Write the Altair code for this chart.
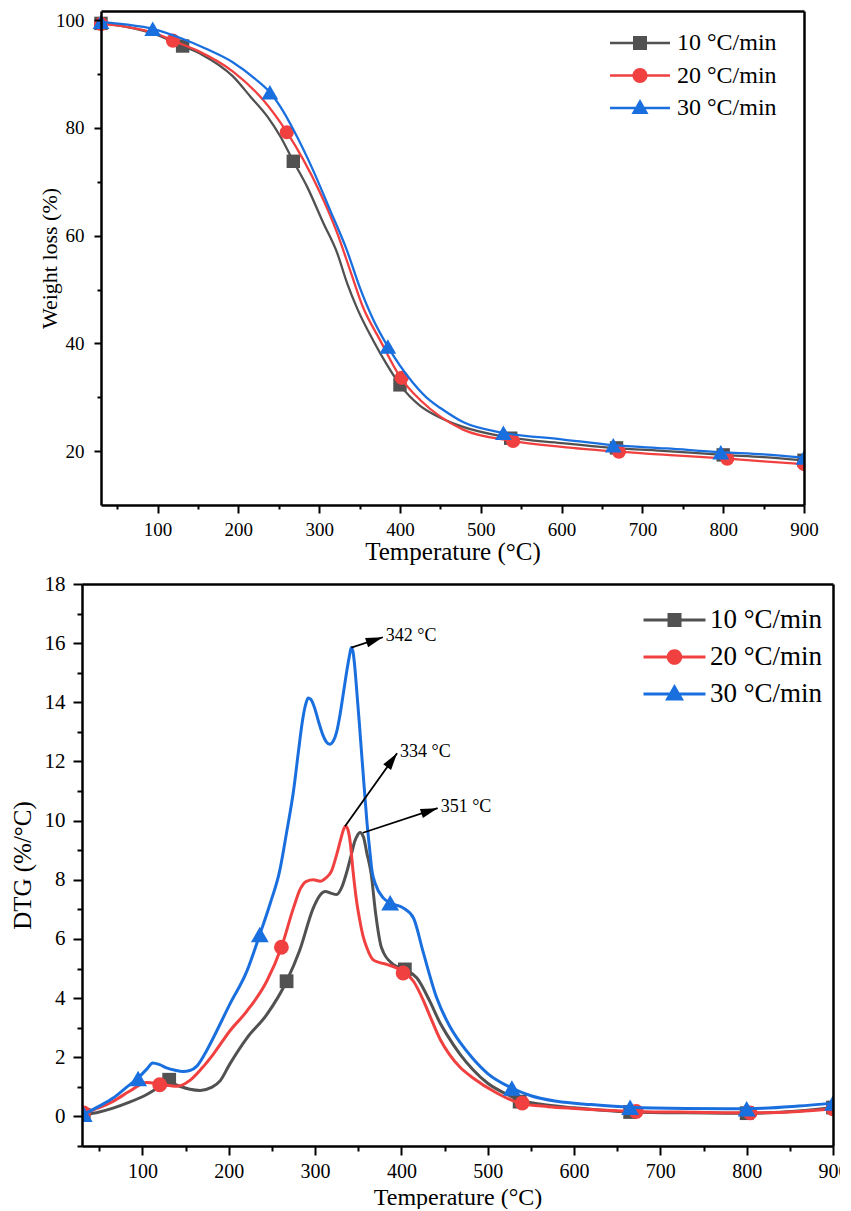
import math
import altair as alt
import pandas as pd

FONT = "Liberation Serif, 'Times New Roman', Times, 'DejaVu Serif', serif"
SERIES = ["10 °C/min", "20 °C/min", "30 °C/min"]
COLORS = ["#515151", "#F14040", "#1A6FDF"]
SHAPES = ["square", "circle", "triangle-up"]

# ---------------- TG (top panel) ----------------
tg10_T = [30, 60, 100, 131, 155, 193, 215, 236, 252, 268, 285, 305, 322, 335, 347, 367, 384, 400, 425, 450, 478, 528, 600, 664, 730, 800, 850, 900]
tg10_v = [99.4, 98.8, 97.2, 95.2, 93.6, 89.6, 85.8, 82.1, 78.4, 73.8, 69.1, 62.4, 56.9, 51.0, 46.5, 40.5, 36.0, 32.3, 28.4, 26.2, 24.5, 22.7, 21.5, 20.6, 20.0, 19.3, 18.9, 18.3]
tg20_T = [30, 60, 100, 119, 150, 193, 230, 260, 280, 301, 322, 338, 354, 375, 400, 425, 450, 478, 539, 600, 670, 740, 805, 850, 900]
tg20_v = [99.3, 98.8, 97.4, 96.2, 94.3, 90.5, 85.3, 79.2, 74.2, 68.0, 60.6, 53.7, 46.8, 40.7, 33.8, 29.5, 26.4, 24.0, 21.9, 20.8, 19.9, 19.2, 18.6, 18.1, 17.6]
tg30_T = [30, 60, 94, 130, 160, 193, 220, 239, 255, 268, 292, 313, 334, 350, 367, 385, 416, 437, 450, 478, 528, 600, 664, 730, 797, 850, 900]
tg30_v = [99.7, 99.2, 98.4, 96.6, 94.7, 92.2, 89.2, 86.6, 83.2, 79.7, 72.3, 64.9, 57.4, 50.5, 44.4, 39.4, 32.7, 29.4, 28.0, 25.4, 23.4, 22.2, 21.1, 20.5, 19.8, 19.4, 18.8]

tgm10_T = [30, 131, 268, 400, 537, 668, 800, 900]
tgm10_v = [99.4, 95.2, 73.8, 32.3, 22.4, 20.6, 19.3, 18.3]
tgm20_T = [30, 119, 260, 402, 540, 671, 805, 900]
tgm20_v = [99.3, 96.2, 79.2, 33.6, 21.9, 19.9, 18.6, 17.6]
tgm30_T = [30, 94, 239, 385, 528, 664, 797, 900]
tgm30_v = [99.7, 98.4, 86.6, 39.4, 23.4, 21.1, 19.8, 18.8]

# ---------------- DTG (bottom panel) ----------------
dtg10_T = [32, 50, 66, 85, 105, 120, 131, 143, 155, 167, 180, 190, 201, 221, 244, 267, 282, 298, 305, 312, 318, 325, 331, 337, 342, 346, 349, 352, 356, 360, 365, 370, 377, 390, 404, 418, 433, 445, 452, 468, 483, 500, 522, 537, 560, 600, 665, 730, 800, 860, 900]
dtg10_v = [0.05, 0.15, 0.28, 0.48, 0.74, 1.0, 1.15, 1.02, 0.92, 0.88, 0.98, 1.2, 1.76, 2.65, 3.44, 4.57, 5.6, 7.05, 7.45, 7.6, 7.55, 7.5, 7.75, 8.29, 8.85, 9.3, 9.5, 9.6, 9.45, 8.9, 8.2, 6.9, 5.7, 5.15, 4.97, 4.68, 3.89, 3.15, 2.8, 2.1, 1.58, 1.12, 0.75, 0.55, 0.42, 0.29, 0.15, 0.12, 0.11, 0.18, 0.3]
dtg20_T = [32, 50, 66, 85, 105, 120, 140, 155, 168, 182, 201, 221, 244, 261, 275, 283, 290, 298, 306, 312, 319, 325, 330, 333, 335.5, 338, 341, 344, 348, 352, 356, 360, 367, 375, 383, 402, 414, 425, 433, 445, 456, 468, 483, 510, 537, 570, 600, 672, 740, 804, 860, 900]
dtg20_v = [0.12, 0.3, 0.51, 0.85, 1.15, 1.1, 1.02, 1.22, 1.6, 2.1, 2.88, 3.56, 4.57, 5.72, 7.05, 7.7, 7.95, 8.0, 7.95, 8.05, 8.29, 8.85, 9.4, 9.7, 9.81, 9.7, 9.2, 8.29, 7.3, 6.6, 6.05, 5.7, 5.3, 5.2, 5.14, 4.9, 4.57, 3.95, 3.4, 2.6, 2.08, 1.66, 1.3, 0.8, 0.45, 0.33, 0.27, 0.17, 0.14, 0.12, 0.17, 0.26]
dtg30_T = [32, 50, 66, 80, 95, 105, 112, 120, 128, 138, 147, 155, 163, 172, 182, 201, 221, 236, 248, 259, 267, 275, 281, 285, 288, 290, 292, 295, 299, 304, 309, 313, 317, 321, 325, 329, 333, 337, 340, 342, 344, 346, 348, 351, 354, 357, 360, 363, 366, 370, 379, 387, 402, 414, 425, 441, 456, 468, 483, 500, 528, 550, 580, 620, 665, 730, 800, 860, 900]
dtg30_v = [0.07, 0.35, 0.62, 0.95, 1.3, 1.6, 1.81, 1.75, 1.64, 1.56, 1.52, 1.55, 1.7, 2.1, 2.65, 3.78, 4.91, 6.15, 7.2, 8.3, 9.6, 11.0, 12.4, 13.3, 13.8, 14.02, 14.15, 14.1, 13.85, 13.35, 12.9, 12.66, 12.58, 12.68, 13.0, 13.6, 14.35, 15.1, 15.6, 15.85, 15.7, 15.2, 14.5, 13.4, 12.24, 11.1, 9.98, 9.1, 8.29, 7.85, 7.39, 7.22, 7.05, 6.71, 5.58, 4.0, 3.05, 2.5, 1.95, 1.45, 0.96, 0.7, 0.51, 0.4, 0.31, 0.27, 0.26, 0.35, 0.45]

dtgm10_T = [32, 131, 267, 404, 537, 665, 800, 900]
dtgm10_v = [0.05, 1.24, 4.57, 4.97, 0.5, 0.15, 0.11, 0.3]
dtgm20_T = [32, 120, 261, 402, 540, 672, 804, 900]
dtgm20_v = [0.12, 1.07, 5.72, 4.85, 0.45, 0.17, 0.12, 0.26]
dtgm30_T = [32, 95, 236, 387, 528, 665, 800, 900]
dtgm30_v = [0.07, 1.28, 6.15, 7.22, 0.96, 0.31, 0.26, 0.45]

# peak annotations
ann_text = ["342 °C", "334 °C", "351 °C"]
ann_T1 = [342, 334.7, 355.5]
ann_v1 = [15.85, 9.81, 9.59]
ann_T2 = [378.5, 395, 442]
ann_v2 = [16.2, 12.28, 10.42]

X_MAJOR = [100, 200, 300, 400, 500, 600, 700, 800, 900]
X_MINOR = [50, 150, 250, 350, 450, 550, 650, 750, 850]


def frame(T, v, s):
    return pd.DataFrame({"T": T, "v": v, "series": s})


def legend_paths(half_len, half_line, sq, cr, tri_top, tri_bot, tri_half):
    L = half_len
    seg = f"M-{L},-{half_line}H{L}V{half_line}H-{L}Z"
    p_sq = seg + f" M-{sq},-{sq}H{sq}V{sq}H-{sq}Z"
    p_ci = seg + f" M-{cr},0A{cr},{cr},0,1,1,{cr},0A{cr},{cr},0,1,1,-{cr},0Z"
    p_tr = seg + f" M0,-{tri_top}L{tri_half},{tri_bot}L-{tri_half},{tri_bot}Z"
    return [p_sq, p_ci, p_tr]


def panel(curves, marks, xs, ys, ax_major_x, ax_major_y, ax_minor_x, ax_minor_y,
          ax_frame_x, ax_frame_y, lw, msizes, leg, paths, extra=None):
    layers = []
    for i in range(3):
        dl = frame(curves[i][0], curves[i][1], SERIES[i])
        dm = frame(marks[i][0], marks[i][1], SERIES[i])
        layers.append(
            alt.Chart(dl).mark_line(color=COLORS[i], strokeWidth=lw,
                                    interpolate="monotone", clip=True).encode(
                x=alt.X("T:Q", scale=xs, axis=ax_major_x if i == 0 else None),
                y=alt.Y("v:Q", scale=ys, axis=ax_major_y if i == 0 else None),
            )
        )
        layers.append(
            alt.Chart(dm).mark_point(shape=SHAPES[i], filled=True, opacity=1,
                                     size=msizes[i], color=COLORS[i], clip=True).encode(
                x=alt.X("T:Q", scale=xs, axis=ax_minor_x if i == 0 else None),
                y=alt.Y("v:Q", scale=ys, axis=ax_minor_y if i == 0 else None),
            )
        )
    allm = pd.concat([frame(marks[i][0], marks[i][1], SERIES[i]) for i in range(3)])
    layers.append(
        alt.Chart(allm).mark_point(filled=True, opacity=0, size=10, clip=True).encode(
            x=alt.X("T:Q", scale=xs, axis=ax_frame_x),
            y=alt.Y("v:Q", scale=ys, axis=ax_frame_y),
            color=alt.Color("series:N", scale=alt.Scale(domain=SERIES, range=COLORS), legend=leg),
            shape=alt.Shape("series:N", scale=alt.Scale(domain=SERIES, range=paths), legend=leg),
        )
    )
    if extra:
        layers.extend(extra)
    return alt.layer(*layers).resolve_axis(x="independent", y="independent")


def major_axis(orient, values, title, tick, lpad, tpad, lfs, tfs, offset=0):
    return alt.Axis(orient=orient, values=values, title=title, tickSize=tick,
                    labelPadding=lpad, titlePadding=tpad, labelFontSize=lfs,
                    titleFontSize=tfs, labelFont=FONT, titleFont=FONT,
                    labelColor="black", titleColor="black", titleFontWeight="normal",
                    format="d", labelFlush=False,
                    labelOverlap=False, tickWidth=2, domainWidth=2.5,
                    offset=offset, zindex=2)


def minor_axis(orient, values, tick, offset=0):
    return alt.Axis(orient=orient, values=values, title=None, labels=False,
                    domain=False, tickSize=tick, tickWidth=2, offset=offset, zindex=2)


def frame_axis(orient):
    return alt.Axis(orient=orient, title=None, labels=False, ticks=False,
                    domainWidth=2.5, zindex=2)


# ---- top panel ----
TOP_SHIFT = 19
TOP_W = 722
TOP_H = 494
xs_top = alt.Scale(domain=[30, 900], range=[TOP_SHIFT, TOP_W], nice=False, zero=False)
ys_top = alt.Scale(domain=[10, 101.7], nice=False, zero=False)

leg_top = alt.Legend(orient="none", legendX=546, legendY=20, title=None,
                     labelFont=FONT, labelFontSize=24, labelColor="black",
                     symbolSize=576, symbolStrokeWidth=0, symbolOpacity=1,
                     labelOffset=25, rowPadding=8.5, padding=0)
paths_top = legend_paths(2.5, 0.1, 0.583, 0.625, 0.75, 0.5, 0.71)

top = panel(
    [(tg10_T, tg10_v), (tg20_T, tg20_v), (tg30_T, tg30_v)],
    [(tgm10_T, tgm10_v), (tgm20_T, tgm20_v), (tgm30_T, tgm30_v)],
    xs_top, ys_top,
    major_axis("bottom", X_MAJOR, "Temperature (°C)", 8, 7, 0, 19, 25),
    major_axis("left", [20, 40, 60, 80, 100], "Weight loss (%)", 7, 10, -6, 19, 22,
               offset=-TOP_SHIFT),
    minor_axis("bottom", X_MINOR, 4),
    minor_axis("left", [30, 50, 70, 90], 4, offset=-TOP_SHIFT),
    frame_axis("top"), frame_axis("right"),
    2.3, [180, 200, 280], leg_top, paths_top,
).properties(width=TOP_W, height=TOP_H)

# ---- bottom panel ----
BOT_W = 751
BOT_H = 562
X_DOM = [30, 900]
Y_DOM = [-1, 18]
xs_bot = alt.Scale(domain=X_DOM, nice=False, zero=False)
ys_bot = alt.Scale(domain=Y_DOM, nice=False, zero=False)

px_T = BOT_W / (X_DOM[1] - X_DOM[0])
px_v = BOT_H / (Y_DOM[1] - Y_DOM[0])
ann_ang = [math.degrees(math.atan2((ann_T2[i] - ann_T1[i]) * px_T,
                                   (ann_v2[i] - ann_v1[i]) * px_v)) for i in range(3)]
ann = pd.DataFrame({"T1": ann_T1, "v1": ann_v1, "T2": ann_T2, "v2": ann_v2,
                    "label": ann_text, "ang": ann_ang})

arrow_rule = alt.Chart(ann).mark_rule(color="black", strokeWidth=1.8).encode(
    x=alt.X("T1:Q", scale=xs_bot, axis=None), y=alt.Y("v1:Q", scale=ys_bot, axis=None),
    x2="T2:Q", y2="v2:Q")
arrow_head = alt.Chart(ann).mark_point(shape="M0,0L0.42,1.5L-0.42,1.5Z", filled=True,
                                        opacity=1, color="black", size=520).encode(
    x=alt.X("T2:Q", scale=xs_bot, axis=None), y=alt.Y("v2:Q", scale=ys_bot, axis=None),
    angle=alt.Angle("ang:Q", scale=None))
arrow_text = alt.Chart(ann).mark_text(align="left", baseline="middle", dx=3, dy=-1,
                                       font=FONT, fontSize=18, color="black").encode(
    x=alt.X("T2:Q", scale=xs_bot, axis=None), y=alt.Y("v2:Q", scale=ys_bot, axis=None),
    text="label:N")

leg_bot = alt.Legend(orient="none", legendX=579, legendY=22.5, title=None,
                     labelFont=FONT, labelFontSize=27, labelColor="black",
                     symbolSize=576, symbolStrokeWidth=0, symbolOpacity=1,
                     labelOffset=22, rowPadding=9, padding=0)
paths_bot = legend_paths(2.583, 0.125, 0.583, 0.65, 0.83, 0.55, 0.79)

bottom = panel(
    [(dtg10_T, dtg10_v), (dtg20_T, dtg20_v), (dtg30_T, dtg30_v)],
    [(dtgm10_T, dtgm10_v), (dtgm20_T, dtgm20_v), (dtgm30_T, dtgm30_v)],
    xs_bot, ys_bot,
    major_axis("bottom", X_MAJOR, "Temperature (°C)", 9, 6, 4, 20, 24),
    major_axis("left", list(range(0, 19, 2)), "DTG (%/°C)", 9, 8, 9, 21, 25),
    minor_axis("bottom", X_MINOR, 5),
    minor_axis("left", list(range(-1, 18, 2)), 5),
    frame_axis("top"), frame_axis("right"),
    3, [190, 220, 320], leg_bot, paths_bot,
    extra=[arrow_rule, arrow_head, arrow_text],
).properties(width=BOT_W, height=BOT_H)

chart = alt.vconcat(top, bottom, spacing=9).resolve_scale(
    color="independent", shape="independent"
).properties(
    padding={"left": 2, "top": 3, "right": -8, "bottom": 0}
).configure_view(stroke=None).configure_axis(
    labelFont=FONT, titleFont=FONT, labelColor="black", titleColor="black",
    domainColor="black", tickColor="black", grid=False, titleFontWeight="normal"
).configure_legend(labelFont=FONT)

chart.save("out.html", embed_options={"renderer": "svg", "actions": False})
